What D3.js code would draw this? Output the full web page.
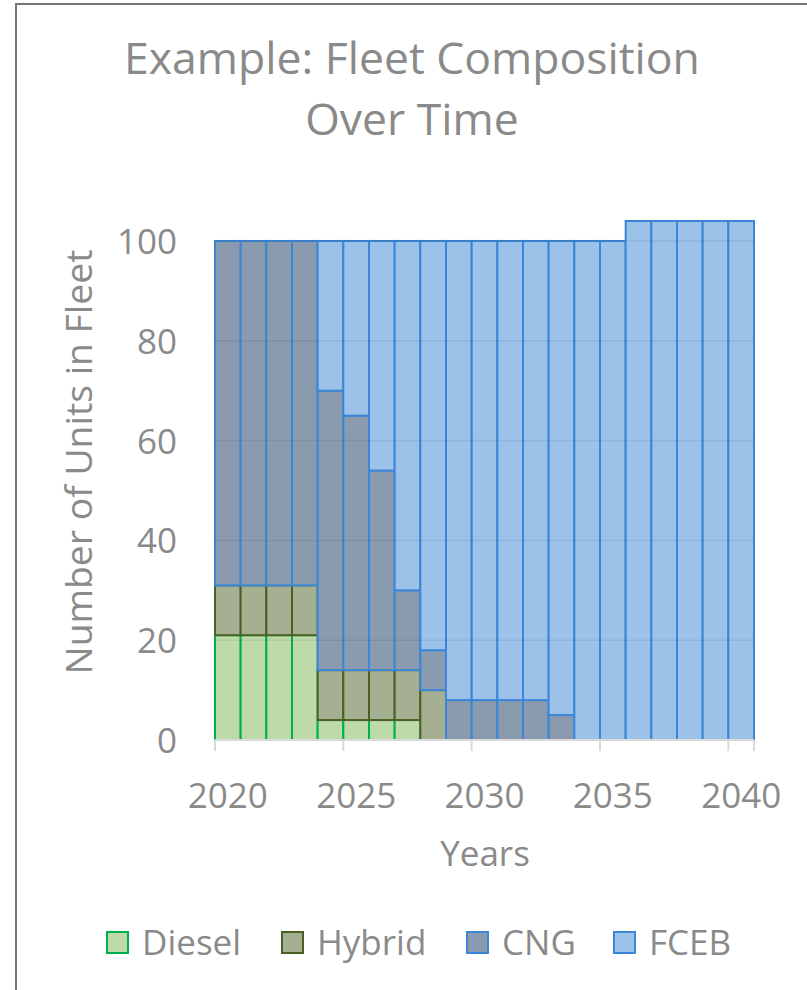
<!DOCTYPE html>
<html>
<head>
<meta charset="utf-8">
<script src="https://cdn.jsdelivr.net/npm/d3@7"></script>
<style>
  html, body { margin: 0; padding: 0; background: #fff; }
  svg { display: block; font-family: "Open Sans", sans-serif; }
</style>
</head>
<body>
<svg id="chart" width="807" height="990"></svg>
<script>
const years = d3.range(2020, 2041);
const diesel = [21,21,21,21,4,4,4,4,0,0,0,0,0,0,0,0,0,0,0,0,0];
const hybrid = [10,10,10,10,10,10,10,10,10,0,0,0,0,0,0,0,0,0,0,0,0];
const cng    = [69,69,69,69,56,51,40,16,8,8,8,8,8,5,0,0,0,0,0,0,0];
const fceb   = [0,0,0,0,30,35,46,70,82,92,92,92,92,95,100,100,104,104,104,104,104];
const yTicks = [0,20,40,60,80,100];
const xTickLabels = [2020,2025,2030,2035,2040];
const seriesNames = ["Diesel","Hybrid","CNG","FCEB"];

const fills   = {Diesel:"#bedaa9", Hybrid:"#a4b091", CNG:"#8a9bb0", FCEB:"#9cc2e9"};
const strokes = {Diesel:"#00b050", Hybrid:"#4a6125", CNG:"#3b86d6", FCEB:"#3b86d6"};
const textColor = "#8a8a8a";

const svg = d3.select("#chart");

// outer frame
svg.append("rect").attr("x",16).attr("y",4).attr("width",820).attr("height",1000)
  .attr("fill","none").attr("stroke","#767676").attr("stroke-width",2);

const plot = {left:215, right:754, top:221, bottom:740};

const table = years.map((y,i)=>({year:y, Diesel:diesel[i], Hybrid:hybrid[i], CNG:cng[i], FCEB:fceb[i]}));
const stack = d3.stack().keys(seriesNames)(table);

const x = d3.scaleBand().domain(years).range([plot.left, plot.right]).padding(0);
const y = d3.scaleLinear().domain([0,104]).range([plot.bottom, plot.top]);

// gridlines (under)
svg.append("g").selectAll("line").data(yTicks.filter(d=>d>0)).join("line")
  .attr("x1",plot.left).attr("x2",plot.right)
  .attr("y1",d=>y(d)).attr("y2",d=>y(d))
  .attr("stroke","#d9d9d9").attr("stroke-width",1.5);

// bars
stack.forEach(s=>{
  svg.append("g").selectAll("rect").data(s.filter(d=>d[1]-d[0]>0)).join("rect")
    .attr("x",d=>x(d.data.year))
    .attr("width",x.bandwidth())
    .attr("y",d=>y(d[1]))
    .attr("height",d=>y(d[0])-y(d[1]))
    .attr("fill",fills[s.key])
    .attr("stroke",strokes[s.key])
    .attr("stroke-width",2);
});

// gridline overlay (visible through bars)
svg.append("g").selectAll("line").data(yTicks.filter(d=>d>0)).join("line")
  .attr("x1",plot.left).attr("x2",plot.right)
  .attr("y1",d=>y(d)).attr("y2",d=>y(d))
  .attr("stroke","#000").attr("stroke-opacity",0.07).attr("stroke-width",1.5);

// x axis
const xAxisG = svg.append("g").attr("transform",`translate(0,${plot.bottom})`);
xAxisG.append("line").attr("x1",plot.left).attr("x2",plot.right).attr("y1",0).attr("y2",0)
  .attr("stroke","#d9d9d9").attr("stroke-width",2);
xAxisG.selectAll("line.tick").data(xTickLabels).join("line").attr("class","tick")
  .attr("x1",d=>x(d)).attr("x2",d=>x(d)).attr("y1",0).attr("y2",11)
  .attr("stroke","#d9d9d9").attr("stroke-width",2);
xAxisG.append("line").attr("x1",plot.right).attr("x2",plot.right).attr("y1",0).attr("y2",11)
  .attr("stroke","#d9d9d9").attr("stroke-width",2);
xAxisG.selectAll("text").data(xTickLabels).join("text")
  .attr("x",d=>x(d)+x.bandwidth()/2).attr("y",68)
  .attr("text-anchor","middle").attr("fill",textColor).attr("font-size",35)
  .text(d=>d);

// y axis labels
const yAxis = d3.axisLeft(y).tickValues(yTicks).tickSize(0).tickPadding(38);
const yG = svg.append("g").attr("transform",`translate(${plot.left},0)`).call(yAxis);
yG.select(".domain").remove();
yG.selectAll("text").attr("fill",textColor).attr("font-size",35)
  .attr("font-family","'Open Sans', sans-serif").attr("dy","0.36em");

// title
const title = svg.append("g").attr("fill",textColor).attr("text-anchor","middle");
function fit(sel, target){
  const w = sel.node().getComputedTextLength();
  const fs = parseFloat(sel.attr("font-size"));
  sel.attr("font-size", fs*target/w);
}
const t1 = title.append("text").attr("x",412).attr("y",74).attr("font-size",43).text("Example: Fleet Composition");
fit(t1, 576);
const t2 = title.append("text").attr("x",412).attr("y",135).attr("font-size",t1.attr("font-size")).text("Over Time");

// axis titles
const yt = svg.append("text").attr("transform","translate(92,462) rotate(-90)")
  .attr("text-anchor","middle").attr("fill",textColor).attr("font-size",34)
  .text("Number of Units in Fleet");
fit(yt, 425);
svg.append("text").attr("x",485).attr("y",866).attr("text-anchor","middle")
  .attr("fill",textColor).attr("font-size",35).text("Years");

// legend
const legendX = [107, 282, 467, 614];
const lg = svg.append("g");
seriesNames.forEach((n,i)=>{
  lg.append("rect").attr("x",legendX[i]).attr("y",932).attr("width",21).attr("height",21)
    .attr("fill",fills[n]).attr("stroke",strokes[n]).attr("stroke-width",2);
  lg.append("text").attr("x",legendX[i]+35).attr("y",955).attr("fill",textColor)
    .attr("font-size",35).text(n);
});
</script>
</body>
</html>
